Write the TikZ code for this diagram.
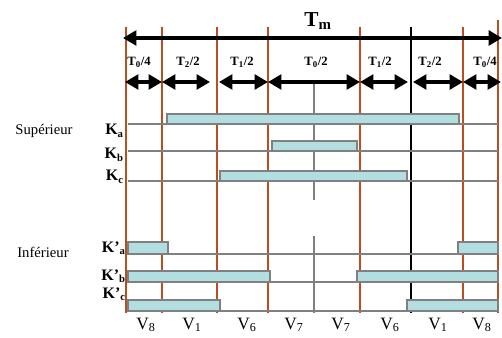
\documentclass[tikz,border=0pt]{standalone}
\usepackage{fontspec}
\setmainfont{Liberation Serif}
\usetikzlibrary{arrows.meta,positioning}
\definecolor{rust}{RGB}{186,78,32}
\definecolor{pulse}{RGB}{178,222,226}

\begin{document}
\begin{tikzpicture}[x=0.75pt, y=-0.75pt, >={Triangle[length=10pt,width=11pt]},
 sep/.style={rust, line width=1.3pt},
 span/.style={<->, line width=2.5pt},
 rail/.style={gray, line width=1.2pt},
 pulsebox/.style={draw=gray, fill=pulse, line width=1.2pt},
 lab/.style={font=\bfseries\fontsize{9.5}{10}\selectfont, inner sep=0pt},
 sw/.style={font=\bfseries\fontsize{12}{12}\selectfont, anchor=east, inner sep=0pt},
 side/.style={font=\fontsize{11}{11}\selectfont, inner sep=0pt},
 vec/.style={font=\fontsize{13}{13}\selectfont, inner sep=0pt}]

\useasboundingbox (0,0) rectangle (502,338);

% switching instants
\foreach \x/\n in {126/0,162/1,217/2,268/3,360/4,463/6}
  \draw[sep] (\x,27) coordinate (t\n) -- (\x,313) coordinate (b\n);
\draw[sep] (498,20) coordinate (t7) -- (498,313) coordinate (b7);
\draw[black, line width=1.2pt] (411,27) coordinate (t5) -- (411,313) coordinate (b5);
\draw[gray, line width=1pt] (314,80) -- (314,200) (314,236) -- (314,313);

% period
\coordinate (m0) at (123,38);
\coordinate (m1) at (502,38);
\draw[span] (m0) -- (m1);
\node[font=\bfseries\fontsize{16}{16}\selectfont, inner sep=0pt] (tm) at (318,21) {T\textsubscript{m}};

% sub-intervals
\foreach \x/\n in {125/0,162/1,210/2,219/3,268/4,360/5,408/6,413/7,463/8,501/9}
  \coordinate (a\n) at (\x,82);
\draw[span] (a0) -- (a1);
\draw[span] (a1) -- (a2);
\draw[span] (a3) -- (a4);
\draw[span] (a4) -- (a5);
\draw[span] (a5) -- (a6);
\draw[span] (a7) -- (a8);
\draw[span] (a8) -- (a9);
\node[lab] (s1) at (139,62) {T\textsubscript{0}/4};
\node[lab] (s2) at (188,62) {T\textsubscript{2}/2};
\node[lab] (s3) at (242,62) {T\textsubscript{1}/2};
\node[lab] (s4) at (316,62) {T\textsubscript{0}/2};
\node[lab] (s5) at (380,62) {T\textsubscript{1}/2};
\node[lab] (s6) at (430,62) {T\textsubscript{2}/2};
\node[lab] (s7) at (485,62) {T\textsubscript{0}/4};

% upper switches
\draw[rail] (128,124) -- (498,124);
\draw[pulsebox] (167,114) rectangle (459,124);
\draw[rail] (128,151) -- (498,151);
\draw[pulsebox] (272,141) rectangle (357,151);
\draw[rail] (128,181) -- (498,181);
\draw[pulsebox] (220,171) rectangle (407,181);
\node[side] (sup) at (44,131) {Supérieur};
\node[sw] (ka) at (124,131) {K\textsubscript{a}};
\node[sw] (kb) at (124,155) {K\textsubscript{b}};
\node[sw] (kc) at (124,177) {K\textsubscript{c}};

% lower switches
\draw[rail] (128,254) -- (498,254);
\draw[pulsebox] (128,242) rectangle (168,254);
\draw[pulsebox] (458,242) rectangle (498,254);
\draw[rail] (128,282) -- (498,282);
\draw[pulsebox] (128,271) rectangle (270,282);
\draw[pulsebox] (357,271) rectangle (498,282);
\draw[rail] (128,311) -- (498,311);
\draw[pulsebox] (128,300) rectangle (220,311);
\draw[pulsebox] (407,300) rectangle (498,311);
\node[side] (inf) at (43,252) {Inférieur};
\node[sw] (kpa) at (126,248) {K’\textsubscript{a}};
\node[sw] (kpb) at (126,276) {K’\textsubscript{b}};
\node[sw] (kpc) at (126,294) {K’\textsubscript{c}};

% vectors
\foreach \x/\v [count=\i] in {146/8,192/1,247/6,294/7,341/7,390/6,438/1,482/8}
  \node[vec] (v\i) at (\x,325) {V\textsubscript{\v}};
\end{tikzpicture}
\end{document}
